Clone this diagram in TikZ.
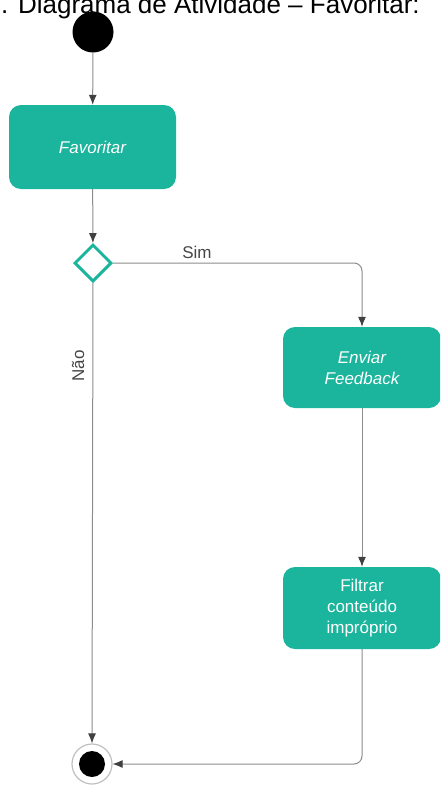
\documentclass[tikz,border=0pt]{standalone}
\usepackage{fontspec}
\setmainfont{Liberation Sans}
\usepackage{tikz}
\usetikzlibrary{arrows.meta,shapes.geometric}
\definecolor{ActTeal}{RGB}{27,180,156}
\definecolor{FlowGray}{RGB}{140,140,140}
\definecolor{LabelGray}{RGB}{70,70,70}

\begin{document}
\begin{tikzpicture}[x=1pt, y=-1pt,
    every node/.style={font=\fontsize{17}{21}\selectfont, inner sep=0pt},
    action/.style={rectangle, rounded corners=12pt, fill=ActTeal, text=white, align=center},
    flow/.style={draw=FlowGray, line width=1pt, -{Latex[length=10pt,width=8pt,color=black!75]}},
    label/.style={text=LabelGray}]
    \clip (0,0) rectangle (440,785);
    \useasboundingbox (0,0) rectangle (440,785);

    %Title (cut at the top edge, as in the page it was taken from)
    \node[anchor=base west, font=\fontsize{26}{30}\selectfont] (title) at (1,13) {. Diagrama de Atividade – Favoritar:};

    %Start
    \node[circle, fill=black, minimum size=41pt] (start) at (93,32) {};

    %Actions
    \node[action, minimum width=167pt, minimum height=84pt] (favoritar) at (92.5,147) {\itshape Favoritar};
    \node[action, minimum width=158pt, minimum height=81pt] (enviar) at (362,367.5) {\itshape Enviar\\ \itshape Feedback};
    \node[action, minimum width=158pt, minimum height=82pt] (filtrar) at (362,608) {Filtrar\\ conteúdo\\ impróprio};

    %Decision
    \node[diamond, draw=ActTeal, fill=white, line width=3pt, minimum width=37pt, minimum height=37pt] (decisao) at (93,263) {};

    %End
    \node[circle, draw=black!25, line width=1.2pt, minimum size=40pt,
          path picture={\fill[black] (path picture bounding box.center) circle (13pt);}] (fim) at (92,764) {};

    %Flows
    \draw[flow] (start) -- (favoritar);
    \draw[flow] (favoritar) -- (decisao);
    \draw[flow, rounded corners=8pt] (decisao.east) -| (enviar.north);
    \draw[flow] (enviar) -- (filtrar);
    \draw[flow, rounded corners=8pt] (filtrar.south) |- (fim.east);
    \draw[flow] (decisao.south) -- (fim.north);

    %Labels
    \node[label] (sim) at (197,252) {Sim};
    \node[label, rotate=90] (nao) at (78,366) {Não};
\end{tikzpicture}
\end{document}
